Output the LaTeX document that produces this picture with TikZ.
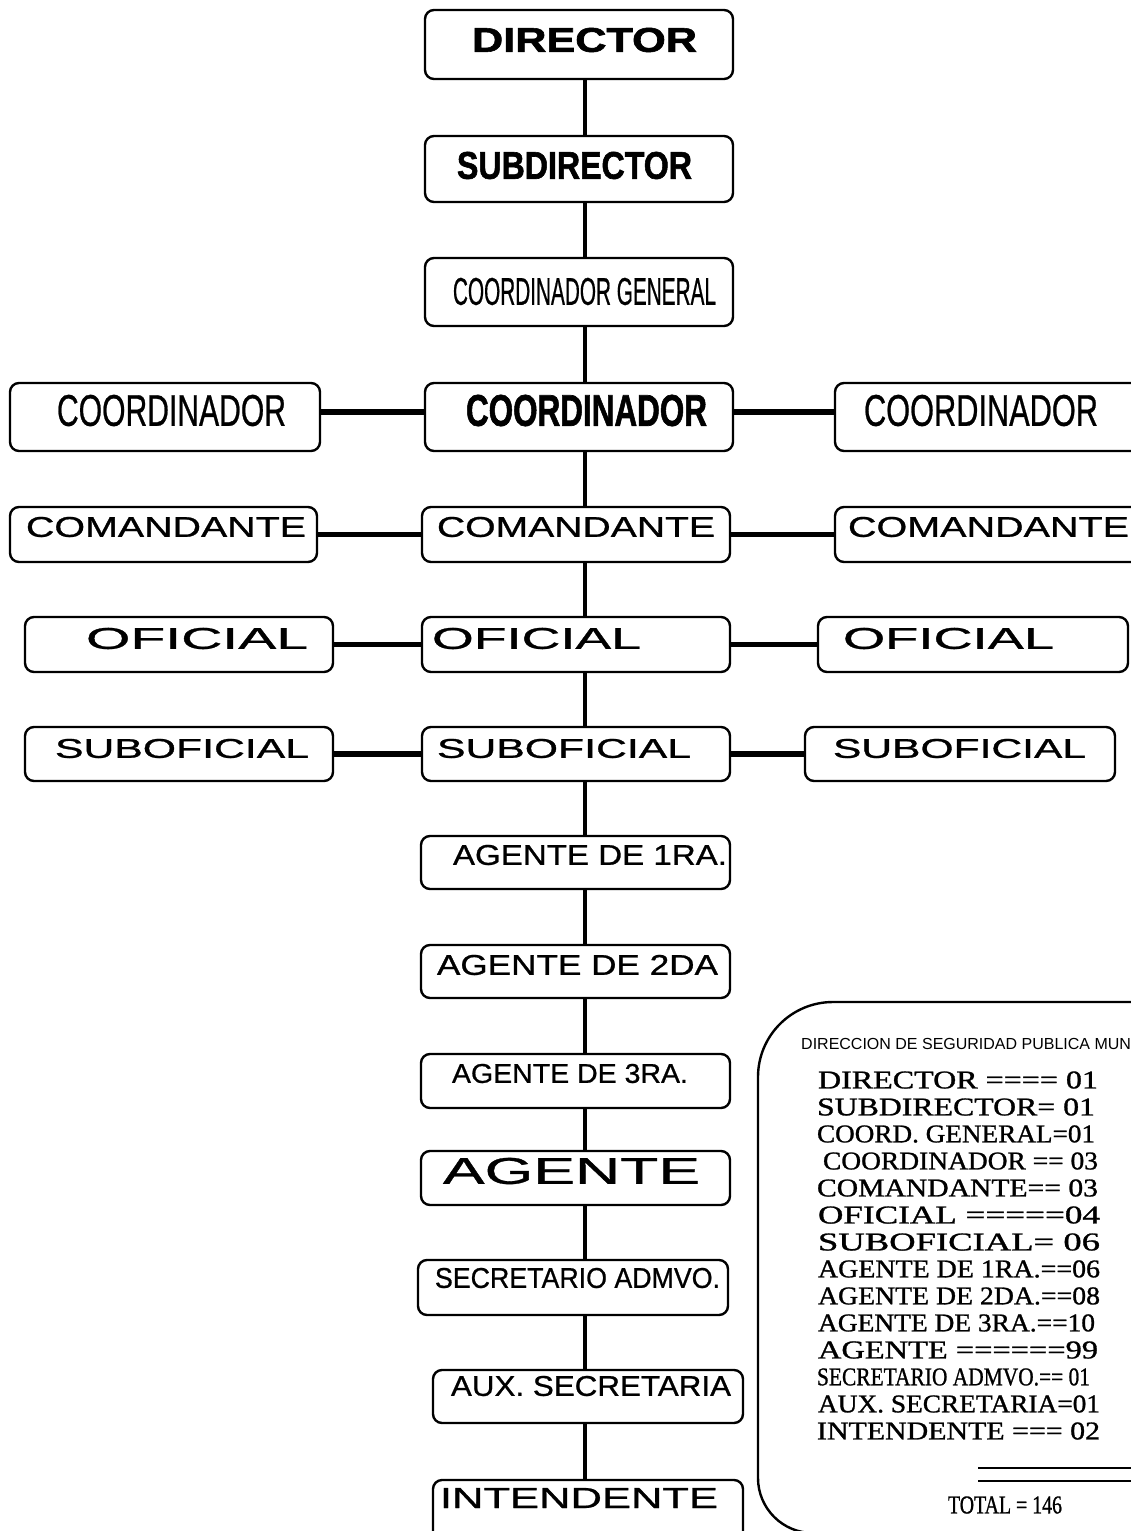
\documentclass[tikz,border=0pt]{standalone}
\usepackage{fontspec}
\setmainfont{Liberation Sans}
\newfontfamily\heavyfont[FakeBold=1.6]{Liberation Sans Bold}
\newfontfamily\midfont[FakeBold=0.8]{Liberation Sans}
\newfontfamily\listfont[FakeBold=1.0]{Liberation Serif}
\usetikzlibrary{fit}

% place a label stretched to fill the box x1..x2 / y1..y2
\newcommand{\fitlabel}[6]{%
  \node[txt] (#1) at ({(#2+#3)/2},{(#4+#5)/2})
    {\resizebox{\dimexpr#3pt-#2pt\relax}{\dimexpr#5pt-#4pt\relax}{#6}};}

\tikzset{
  orgbox/.style={draw, line width=2.4pt, rounded corners=9pt, inner sep=0pt, fill=white},
  txt/.style={inner sep=0pt, outer sep=0pt},
  vlink/.style={line width=4pt},
  hlink/.style={line width=5.5pt},
  panel/.style={line width=2.4pt},
  listline/.style={anchor=west, inner sep=0pt, outer sep=0pt}
}

\begin{document}
\begin{tikzpicture}[x=1pt,y=-1pt]
\useasboundingbox (0,0) rectangle (1131,1531);
\clip (0,0) rectangle (1131,1531);
\fill[white] (0,0) rectangle (1131,1531);

\coordinate (spine) at (585,0);

% ---- central chain ----
\node[orgbox, fit={(425,10) (733,79)}] (dir) {};
\node[orgbox, fit={(425,136) (733,202)}] (sub) {};
\node[orgbox, fit={(425,258) (733,326)}] (cg) {};

\node[orgbox, fit={(10,383) (320,451)}] (coL) {};
\node[orgbox, fit={(425,383) (733,451)}] (coC) {};
\node[orgbox, fit={(835,383) (1145,451)}] (coR) {};

\node[orgbox, fit={(10,507) (317,562)}] (cmL) {};
\node[orgbox, fit={(422,507) (730,562)}] (cmC) {};
\node[orgbox, fit={(835,507) (1145,562)}] (cmR) {};

\node[orgbox, fit={(25,617) (333,672)}] (ofL) {};
\node[orgbox, fit={(422,617) (730,672)}] (ofC) {};
\node[orgbox, fit={(818,617) (1128,672)}] (ofR) {};

\node[orgbox, fit={(25,727) (333,781)}] (suL) {};
\node[orgbox, fit={(422,727) (730,781)}] (suC) {};
\node[orgbox, fit={(805,727) (1115,781)}] (suR) {};

\node[orgbox, fit={(421,836) (730,889)}] (a1) {};
\node[orgbox, fit={(421,945) (730,998)}] (a2) {};
\node[orgbox, fit={(421,1054) (730,1108)}] (a3) {};
\node[orgbox, fit={(421,1151) (730,1205)}] (ag) {};
\node[orgbox, fit={(418,1260) (728,1315)}] (sec) {};
\node[orgbox, fit={(433,1370) (743,1423)}] (aux) {};
\node[orgbox, fit={(433,1480) (743,1550)}] (int) {};

% ---- labels ----
\fitlabel{dirT}{472}{697}{28}{52}{\heavyfont DIRECTOR}
\fitlabel{subT}{457}{692}{152}{179}{\heavyfont SUBDIRECTOR}
\fitlabel{cgT}{453}{716}{278}{305}{\midfont COORDINADOR GENERAL}

\fitlabel{coLT}{57}{286}{395}{426}{\midfont COORDINADOR}
\fitlabel{coCT}{466}{707}{395}{426}{\heavyfont COORDINADOR}
\fitlabel{coRT}{864}{1098}{395}{426}{\midfont COORDINADOR}

\fitlabel{cmLT}{26}{306}{517}{537}{\midfont COMANDANTE}
\fitlabel{cmCT}{437}{715}{517}{537}{\midfont COMANDANTE}
\fitlabel{cmRT}{848}{1129}{517}{537}{\midfont COMANDANTE}

\fitlabel{ofLT}{86}{308}{628}{649}{\midfont OFICIAL}
\fitlabel{ofCT}{432}{641}{628}{649}{\midfont OFICIAL}
\fitlabel{ofRT}{843}{1054}{628}{649}{\midfont OFICIAL}

\fitlabel{suLT}{55}{309}{739}{758}{\midfont SUBOFICIAL}
\fitlabel{suCT}{437}{691}{739}{758}{\midfont SUBOFICIAL}
\fitlabel{suRT}{833}{1086}{739}{758}{\midfont SUBOFICIAL}

\fitlabel{a1T}{453}{727}{845}{865}{\midfont AGENTE DE 1RA.}
\fitlabel{a2T}{437}{718}{955}{975}{\midfont AGENTE DE 2DA}
\fitlabel{a3T}{452}{688}{1064}{1083}{\midfont AGENTE DE 3RA.}
\fitlabel{agT}{443}{700}{1158}{1184}{\midfont AGENTE}
\fitlabel{secT}{435}{720}{1268}{1288}{\midfont SECRETARIO ADMVO.}
\fitlabel{auxT}{451}{731}{1376}{1396}{\midfont AUX. SECRETARIA}
\fitlabel{intT}{440}{718}{1488}{1508}{\midfont INTENDENTE}

% ---- vertical chain of command ----
\foreach \a/\b in {dir/sub, sub/cg, cg/coC, coC/cmC, cmC/ofC, ofC/suC,
                   suC/a1, a1/a2, a2/a3, a3/ag, ag/sec, sec/aux, aux/int}
  \draw[vlink] (\a.south -| spine) -- (\b.north -| spine);

% ---- side branches ----
\draw[hlink] ([yshift=5pt]coL.east) -- ([yshift=5pt]coC.west);
\draw[hlink] ([yshift=5pt]coC.east) -- ([yshift=5pt]coR.west);
\foreach \l/\c/\r in {cmL/cmC/cmR, ofL/ofC/ofR, suL/suC/suR} {
  \draw[hlink] (\l.east) -- (\c.west);
  \draw[hlink] (\c.east) -- (\r.west);
}

% ---- staff summary panel ----
\draw[panel] (1200,1002) -- (833,1002)
  arc[start angle=270, end angle=180, radius=75] -- (758,1478)
  arc[start angle=180, end angle=90, radius=55] -- (1200,1533);

\node[anchor=west, inner sep=0pt] (hdr) at (801,1044)
  {\fontsize{16}{16}\selectfont DIRECCION DE SEGURIDAD PUBLICA MUNICIPAL};

\node[listline] (l1)  at (818,1080) {\resizebox{280pt}{17pt}{\listfont DIRECTOR ==== 01}};
\node[listline] (l2)  at (817,1107) {\resizebox{278pt}{17pt}{\listfont SUBDIRECTOR= 01}};
\node[listline] (l3)  at (817,1134) {\resizebox{278pt}{17pt}{\listfont COORD. GENERAL=01}};
\node[listline] (l4)  at (823,1161) {\resizebox{275pt}{17pt}{\listfont COORDINADOR == 03}};
\node[listline] (l5)  at (817,1188) {\resizebox{281pt}{17pt}{\listfont COMANDANTE== 03}};
\node[listline] (l6)  at (818,1215) {\resizebox{282pt}{17pt}{\listfont OFICIAL =====04}};
\node[listline] (l7)  at (818,1242) {\resizebox{282pt}{17pt}{\listfont SUBOFICIAL= 06}};
\node[listline] (l8)  at (818,1269) {\resizebox{282pt}{17pt}{\listfont AGENTE DE 1RA.==06}};
\node[listline] (l9)  at (818,1296) {\resizebox{282pt}{17pt}{\listfont AGENTE DE 2DA.==08}};
\node[listline] (l10) at (818,1323) {\resizebox{277pt}{17pt}{\listfont AGENTE DE 3RA.==10}};
\node[listline] (l11) at (818,1350) {\resizebox{280pt}{17pt}{\listfont AGENTE ======99}};
\node[listline] (l12) at (817,1377) {\resizebox{273pt}{17pt}{\listfont SECRETARIO ADMVO.== 01}};
\node[listline] (l13) at (818,1404) {\resizebox{282pt}{17pt}{\listfont AUX. SECRETARIA=01}};
\node[listline] (l14) at (817,1431) {\resizebox{283pt}{17pt}{\listfont INTENDENTE === 02}};

\coordinate (ruleA) at (978,1468);
\coordinate (ruleB) at (978,1481);
\draw[line width=2.4pt] (ruleA) -- (ruleA -| 1140,0);
\draw[line width=1.4pt] (ruleB) -- (ruleB -| 1140,0);

\node[txt] (total) at (1005,1505)
  {\resizebox{114pt}{17pt}{\listfont TOTAL = 146}};
\end{tikzpicture}
\end{document}
